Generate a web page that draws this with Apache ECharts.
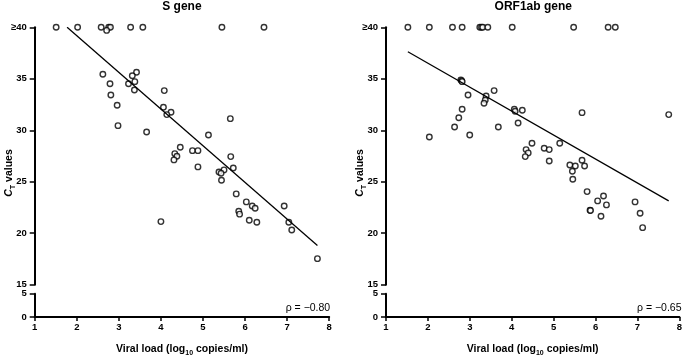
<!DOCTYPE html>
<html><head><meta charset="utf-8">
<script src="https://cdn.jsdelivr.net/npm/echarts/dist/echarts.min.js"></script>
<style>html,body{margin:0;padding:0;background:#fff}#c{width:685px;height:358px}</style>
</head><body><div id="c"></div>
<script>
// ---- data ----
const xTicks = [1, 2, 3, 4, 5, 6, 7, 8];
const yTicksUpper = [15, 20, 25, 30, 35, 40];
const yTicksLower = [0, 5];
const panelTitles = ['S gene', 'ORF1ab gene'];
const rhoValues = ['\u03c1 = \u22120.80', '\u03c1 = \u22120.65'];

const sGeneX = [1.51, 2.02, 2.58, 2.76, 2.80, 3.28, 3.57, 5.45, 6.45, 2.71,
  2.62, 3.42, 3.32, 3.38, 2.79, 3.23, 3.37, 2.81, 4.08, 2.96, 4.06, 4.24, 4.14, 5.65,
  2.98, 3.66, 5.13, 4.46, 4.75, 4.88, 4.33, 4.38, 4.31, 5.66, 4.88, 5.72, 5.50, 5.38,
  5.43, 5.44, 5.79, 6.03, 6.17, 6.24, 5.85, 5.87, 6.10, 6.28, 6.93, 7.04, 7.11, 7.72, 4.00];
const sGeneY = [40, 40, 40, 40, 40, 40, 40, 40, 40, 39.7,
  35.44, 35.63, 35.3, 34.72, 34.52, 34.52, 33.91, 33.43, 33.85, 32.43, 32.23, 31.75, 31.52, 31.13,
  30.45, 29.83, 29.54, 28.35, 28.02, 28.02, 27.73, 27.48, 27.12, 27.44, 26.44, 26.34, 26.15, 25.95,
  25.83, 25.14, 23.82, 23.04, 22.65, 22.43, 22.14, 21.85, 21.26, 21.07, 22.65, 21.07, 20.32, 17.53, 21.13];

const orfX = [1.52, 2.03, 2.58, 2.81, 3.23, 3.27, 3.30, 3.42, 4.00, 5.46, 6.28, 6.45,
  2.03, 2.78, 2.80, 2.81, 2.95, 3.57, 3.38, 3.36, 3.33, 2.81, 2.73, 2.63, 2.99, 3.67,
  4.05, 4.07, 4.24, 4.14, 4.47, 4.33, 4.38, 4.31, 4.76, 4.88, 4.88, 5.13, 5.66, 7.72,
  5.37, 5.50, 5.66, 5.72, 5.43, 5.44, 5.78, 6.03, 6.17, 6.24, 5.85, 5.86, 6.11, 6.92, 7.04, 7.10];
const orfY = [40, 40, 40, 40, 40, 40, 40, 40, 40, 40, 40, 40,
  29.35, 34.88, 34.80, 34.72, 33.43, 33.85, 33.33, 32.94, 32.62, 32.04, 31.22, 30.32, 29.54, 30.32,
  32.04, 31.84, 31.94, 30.71, 28.74, 28.12, 27.80, 27.44, 28.25, 28.12, 27.02, 28.74, 31.71, 31.52,
  26.63, 26.53, 27.08, 26.53, 26.02, 25.24, 24.04, 23.14, 23.62, 22.75, 22.23, 22.20, 21.65, 23.04, 21.94, 20.54];

// fitted regression lines: [x, y] end points
const sGeneFitX = [1.77, 7.72];
const sGeneFitY = [40.0, 18.8];
const orfFitX = [1.52, 7.72];
const orfFitY = [37.63, 23.14];

// ---- build ----
const zip = (a, b) => a.map((v, i) => [v, b[i]]);
const font = 'Liberation Sans, Arial, sans-serif';
const chart = echarts.init(document.getElementById('c'), null, {renderer: 'canvas'});

const panelLeft = [34.7, 386];
const panelWidth = 294.5;
const upperTop = 27.3, upperH = 257.4, lowerTop = 293.7, lowerH = 28;
const tickFont = {color: '#000', fontSize: 9.5, fontWeight: 'bold', fontFamily: font};

const grids = [], xAxes = [], yAxes = [];
panelLeft.forEach((l, p) => {
  grids.push({left: l, top: upperTop, width: panelWidth, height: upperH});
  grids.push({left: l, top: lowerTop, width: panelWidth, height: lowerH});
  xAxes.push({gridIndex: 2 * p, type: 'value', min: xTicks[0], max: xTicks[xTicks.length - 1], interval: 1, show: false});
  xAxes.push({gridIndex: 2 * p + 1, type: 'value', min: xTicks[0], max: xTicks[xTicks.length - 1], interval: 1,
    axisLine: {show: true, onZero: false, lineStyle: {color: '#000', width: 2}},
    axisTick: {show: true, length: 4, lineStyle: {color: '#000', width: 1.5}},
    axisLabel: Object.assign({margin: 5}, tickFont),
    splitLine: {show: false},
    name: '{b|Viral load (log}{s|10}{b| copies/ml)}', nameLocation: 'middle', nameGap: 25,
    nameTextStyle: {rich: {
      b: {fontSize: 10.5, fontWeight: 'bold', fontFamily: font, color: '#000', lineHeight: 15},
      s: {fontSize: 7, fontWeight: 'bold', fontFamily: font, color: '#000', verticalAlign: 'bottom'}
    }}
  });
  yAxes.push({gridIndex: 2 * p, type: 'value', min: yTicksUpper[0], max: yTicksUpper[yTicksUpper.length - 1], interval: 5,
    axisLine: {show: true, onZero: false, lineStyle: {color: '#000', width: 2}},
    axisTick: {show: true, length: 5, lineStyle: {color: '#000', width: 1.5}},
    axisLabel: Object.assign({margin: 8, formatter: v => v === 40 ? '\u2265' + v : '' + v}, tickFont),
    splitLine: {show: false}
  });
  yAxes.push({gridIndex: 2 * p + 1, type: 'value', min: yTicksLower[0], max: yTicksLower[yTicksLower.length - 1], interval: 5,
    axisLine: {show: true, onZero: false, lineStyle: {color: '#000', width: 2}},
    axisTick: {show: true, length: 5, lineStyle: {color: '#000', width: 1.5}},
    axisLabel: Object.assign({margin: 8}, tickFont),
    splitLine: {show: false}
  });
});

const scatterStyle = {color: '#fff', borderColor: '#000', borderWidth: 1.4};
const series = [
  {type: 'scatter', xAxisIndex: 0, yAxisIndex: 0, data: zip(sGeneX, sGeneY), symbol: 'circle', symbolSize: 5.5, itemStyle: scatterStyle, clip: false, silent: true},
  {type: 'line', xAxisIndex: 0, yAxisIndex: 0, data: zip(sGeneFitX, sGeneFitY), symbol: 'none', lineStyle: {color: '#000', width: 1.3}, silent: true},
  {type: 'scatter', xAxisIndex: 2, yAxisIndex: 2, data: zip(orfX, orfY), symbol: 'circle', symbolSize: 5.5, itemStyle: scatterStyle, clip: false, silent: true},
  {type: 'line', xAxisIndex: 2, yAxisIndex: 2, data: zip(orfFitX, orfFitY), symbol: 'none', lineStyle: {color: '#000', width: 1.3}, silent: true}
];

const yNameRich = {
  c: {fontSize: 10.5, fontWeight: 'bold', fontStyle: 'italic', fontFamily: font, fill: '#000', lineHeight: 15},
  t: {fontSize: 7, fontWeight: 'bold', fontFamily: font, fill: '#000', verticalAlign: 'bottom'},
  v: {fontSize: 10.5, fontWeight: 'bold', fontFamily: font, fill: '#000', lineHeight: 15}
};

const graphics = [];
panelLeft.forEach((l, p) => {
  graphics.push({type: 'text', x: l - 26, y: 173, rotation: Math.PI / 2,
    style: {text: '{c|C}{t|T}{v| values}', rich: yNameRich, align: 'center', verticalAlign: 'middle'}});
  graphics.push({type: 'text', x: l + panelWidth + 1, y: 308,
    style: {text: rhoValues[p], fontSize: 10.5, fontFamily: font, fill: '#000', align: 'right', verticalAlign: 'middle'}});
});

chart.setOption({
  animation: false,
  backgroundColor: '#fff',
  title: panelLeft.map((l, p) => ({text: panelTitles[p], left: l + panelWidth / 2, top: 1, padding: 0, textAlign: 'center',
    textStyle: {fontSize: 12, fontWeight: 'bold', fontFamily: font, color: '#000'}})),
  grid: grids, xAxis: xAxes, yAxis: yAxes, series: series, graphic: graphics
});
</script></body></html>
